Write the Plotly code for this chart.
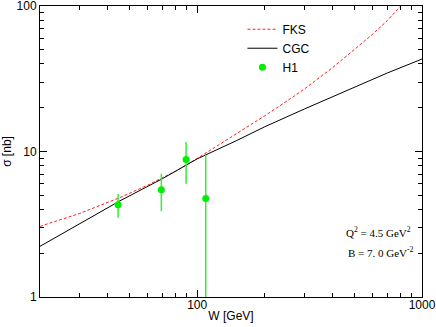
import plotly.graph_objects as go

# FKS prediction
W_fks = [20, 30, 45, 60, 70, 80, 100, 130, 160, 200, 270, 300, 400, 500, 600, 700, 800, 900]
sigma_fks = [3.06, 3.75, 4.8, 5.85, 6.6, 7.3, 8.95, 11.6, 14.1, 17.6, 24.0, 26.9, 37.7, 50.0, 63.5, 79.2, 100.0, 121.0]

# CGC prediction
W_cgc = [20, 30, 45, 70, 100, 150, 200, 300, 500, 700, 1000]
sigma_cgc = [2.23, 3.18, 4.55, 6.5, 8.9, 11.9, 14.8, 19.6, 27.8, 34.6, 43.2]

# H1 data
W_h1 = [44.5, 69.3, 89.3, 109.2]
sigma_h1 = [4.3, 5.46, 8.81, 4.76]
err_h1 = [0.8, 1.57, 2.8, 4.73]

fig = go.Figure()

fig.add_trace(go.Scatter(
    x=W_fks, y=sigma_fks, mode='lines', name='FKS',
    line=dict(color='#ff2020', width=1, dash='3px,2px')
))
fig.add_trace(go.Scatter(
    x=W_cgc, y=sigma_cgc, mode='lines', name='CGC',
    line=dict(color='black', width=1)
))
fig.add_trace(go.Scatter(
    x=W_h1, y=sigma_h1, mode='markers', name='H1',
    marker=dict(color='#00ee00', size=7),
    error_y=dict(type='data', array=err_h1, color='#33ee33', thickness=1.5, width=0)
))

font_sans = dict(family='Liberation Sans, Arial', size=12, color='black')
font_serif = dict(family='Liberation Serif, Times New Roman', size=11, color='black')

axis_common = dict(
    type='log', showgrid=False, zeroline=False, automargin=False,
    showline=True, linecolor='black', linewidth=1, mirror='allticks',
    ticks='inside', ticklen=7, tickcolor='black',
    minor=dict(ticks='inside', ticklen=4, tickcolor='black', showgrid=False),
    tickfont=font_sans, ticklabeloverflow='allow',
    dtick=1,
)

fig.update_xaxes(axis_common, range=[1.30103, 3], ticklabelstandoff=-3,
                 title=dict(text='W [GeV]', font=font_sans, standoff=0))
fig.update_yaxes(axis_common, range=[0, 2],
                 title=dict(text='σ [nb]', font=font_sans, standoff=4))

fig.add_annotation(xref='paper', yref='paper', x=0.977, y=0.222, xanchor='right', yanchor='middle',
                   text='Q<sup>2</sup> = 4.5 GeV<sup>2</sup>', showarrow=False, font=font_serif)
fig.add_annotation(xref='paper', yref='paper', x=0.984, y=0.156, xanchor='right', yanchor='middle',
                   text='B = 7. 0 GeV<sup>-2</sup>', showarrow=False, font=font_serif)

fig.update_layout(
    width=436, height=327,
    margin=dict(l=40, r=14, t=6, b=30),
    plot_bgcolor='white', paper_bgcolor='white',
    legend=dict(x=0.53, y=0.97, xanchor='left', yanchor='top',
                bgcolor='rgba(0,0,0,0)', font=font_sans),
)

# страница без отступов, чтобы рисунок стоял в углу окна
fig.write_html("out.html", config={'displayModeBar': False},
               post_script="document.body.style.margin='0px';")
